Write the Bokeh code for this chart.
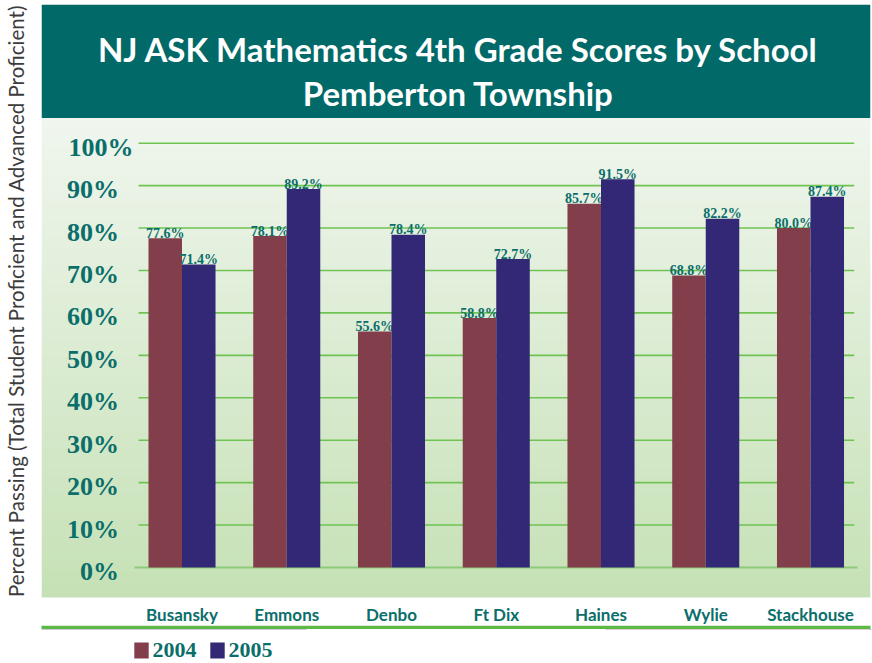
import numpy as np
from bokeh.plotting import figure
from bokeh.layouts import column
from bokeh.models import (Range1d, FixedTicker, LinearAxis, Legend, LegendItem,
                          BoxAnnotation, Label, ColumnDataSource)
from bokeh.transform import dodge
from bokeh.core.properties import value
from bokeh.embed import file_html
from bokeh.resources import INLINE

# ---------------- data ----------------
schools = ["Busansky", "Emmons", "Denbo", "Ft Dix", "Haines", "Wylie", "Stackhouse"]
scores_2004 = [77.6, 78.1, 55.6, 58.8, 85.7, 68.8, 80.0]
scores_2005 = [71.4, 89.2, 78.4, 72.7, 91.5, 82.2, 87.4]
series_names = ["2004", "2005"]
y_ticks = [0, 10, 20, 30, 40, 50, 60, 70, 80, 90, 100]
y_tick_labels = ["0%", "10%", "20%", "30%", "40%", "50%", "60%", "70%", "80%", "90%", "100%"]
title_lines = ["NJ ASK Mathematics 4th Grade Scores by School", "Pemberton Township"]
y_label = "Percent Passing (Total Student Proficient and Advanced Proficient)"

# ---------------- styles / layout ----------------
TEAL = "#0a6e6a"
BANNER = "#016a68"
C2004 = "#823e4a"
C2005 = "#322876"
GRID = "#6fc352"
ZERO = "#8dc97b"
SEP = "#5cb946"
GRAD_TOP = (0xf0, 0xf6, 0xee)
GRAD_BOT = (0xc4, 0xe0, 0xb3)

PAGE_W = 872
MAIN_H, LEG_H = 629, 34
B_LEFT, B_RIGHT, B_TOP, B_BOTTOM = 41, 2, 4, 32
FRAME_W = PAGE_W - B_LEFT - B_RIGHT
FRAME_H = MAIN_H - B_TOP - B_BOTTOM
GROUP0_PX, GROUP_STEP = 140.5, 104.75      # px from frame left
Y0_PX, Y100_PX = 563.0, 138.7               # px from frame top
PX_PER_UNIT = (Y0_PX - Y100_PX) / 100.0
BANNER_PX = 113.5


def xd(px):
    return (px - GROUP0_PX) / GROUP_STEP


def yd(py):
    return (Y0_PX - py) / PX_PER_UNIT


p = figure(width=PAGE_W, height=MAIN_H,
           x_range=Range1d(xd(0), xd(FRAME_W)), y_range=Range1d(yd(FRAME_H), yd(0)),
           output_backend="svg", toolbar_location=None,
           min_border_left=B_LEFT, min_border_right=B_RIGHT, min_border_top=B_TOP,
           min_border_bottom=B_BOTTOM,
           background_fill_color="white", border_fill_color="white", outline_line_color=None)
p.xgrid.visible = False
p.ygrid.visible = False

# gradient background of the plot area
N = 256
t = np.linspace(0.0, 1.0, N)[:, None]
rgb = np.array(GRAD_BOT)[None, :] + (np.array(GRAD_TOP) - np.array(GRAD_BOT))[None, :] * t
img = np.empty((N, 2), dtype=np.uint32)
view = img.view(dtype=np.uint8).reshape((N, 2, 4))
view[:, :, 0:3] = np.round(rgb[:, None, :]).astype(np.uint8)
view[:, :, 3] = 255
p.image_rgba(image=[img], x=xd(0), y=yd(FRAME_H) - 5, dw=xd(FRAME_W) - xd(0),
             dh=yd(BANNER_PX) - yd(FRAME_H) + 5, level="image")

# title banner
p.add_layout(BoxAnnotation(bottom=yd(BANNER_PX), fill_color=BANNER, fill_alpha=1.0,
                           line_color=None))
for line, base_px in zip(title_lines, [44.3, 88.3]):
    p.add_layout(Label(x=xd(416.8), y=yd(base_px), text=line, text_align="center",
                       text_baseline="alphabetic", text_font="Lato", text_font_style="bold",
                       text_font_size="33px", text_color="white"))

# gridlines
p.segment(x0=xd(97), x1=xd(812.7), y0=y_ticks[1:], y1=y_ticks[1:],
          line_color=GRID, line_width=1.6)
p.segment(x0=xd(93), x1=xd(816), y0=y_ticks[:1], y1=y_ticks[:1],
          line_color=ZERO, line_width=2)

# y tick labels
tick_src = ColumnDataSource(dict(
    y=y_ticks, label=y_tick_labels,
    x=[xd(92) if len(s) > 3 else xd(77.5) for s in y_tick_labels]))
p.text(x="x", y="y", text="label", source=tick_src, text_align="right",
       text_baseline="middle", y_offset=4, text_font=value("Liberation Serif"),
       text_font_style="bold", text_font_size="26px", text_color=TEAL)

# bars
src = ColumnDataSource(dict(
    idx=list(range(len(schools))),
    y2004=scores_2004, y2005=scores_2005,
    t2004=[f"{v:.1f}%" for v in scores_2004],
    t2005=[f"{v:.1f}%" for v in scores_2005]))
BW = 0.32
bar_colors = {"2004": C2004, "2005": C2005}
offsets = {"2004": -BW / 2, "2005": BW / 2}
for col in series_names:
    p.vbar(x=dodge("idx", offsets[col]), top="y" + col, bottom=0, width=BW, source=src,
           fill_color=bar_colors[col], line_color=None)
    p.text(x=dodge("idx", offsets[col]), y="y" + col, text="t" + col, source=src,
           text_align="center", text_baseline="alphabetic", y_offset=-5,
           text_font=value("Liberation Serif"), text_font_style="bold",
           text_font_size="14px", text_color=TEAL)

# y axis: only its title
ya = p.yaxis[0]
ya.ticker = FixedTicker(ticks=[])
ya.axis_line_color = None
ya.major_tick_out = 0
ya.major_tick_in = 0
ya.minor_tick_out = 0
ya.minor_tick_in = 0
ya.major_label_standoff = 0
ya.axis_label = y_label
ya.axis_label_text_font = "Lato"
ya.axis_label_text_font_style = "normal"
ya.axis_label_text_font_size = "20.5px"
ya.axis_label_text_color = "#3c3c3c"
ya.axis_label_standoff = 14

# x axis: school names
xa = p.xaxis[0]
xa.ticker = FixedTicker(ticks=list(range(len(schools))))
xa.major_label_overrides = {i: s for i, s in enumerate(schools)}
xa.axis_line_color = None
xa.major_tick_out = 0
xa.major_tick_in = 0
xa.minor_tick_out = 0
xa.minor_tick_in = 0
xa.major_label_standoff = 6
xa.major_label_text_font = "Lato"
xa.major_label_text_font_style = "bold"
xa.major_label_text_font_size = "17px"
xa.major_label_text_color = TEAL

# green separator line under the school names
sep = LinearAxis(ticker=FixedTicker(ticks=[]), axis_line_color=SEP, axis_line_width=3.5,
                 major_tick_out=0, major_tick_in=0, minor_tick_out=0, minor_tick_in=0,
                 major_label_standoff=0, major_tick_line_color=None,
                 minor_tick_line_color=None)
p.add_layout(sep, "below")

# ---------------- legend strip ----------------
# (its swatch renderers share the bar data but lie outside this strip's visible range)
pl = figure(width=PAGE_W, height=LEG_H, x_range=Range1d(0, 1), y_range=Range1d(-2, -1),
            output_backend="svg", toolbar_location=None,
            x_axis_location=None, y_axis_location=None,
            min_border_left=0, min_border_right=0, min_border_top=0, min_border_bottom=0,
            background_fill_color="white", border_fill_color="white", outline_line_color=None)
pl.grid.visible = False
items = []
for col in series_names:
    sw = pl.vbar(x=dodge("idx", offsets[col]), top="y" + col, bottom=0, width=BW,
                 source=src, fill_color=bar_colors[col], line_color=None)
    items.append(LegendItem(label=col, renderers=[sw]))
legend = Legend(items=items, orientation="horizontal", location=(90.5, 0), margin=0,
                padding=0, spacing=11, label_standoff=3, glyph_width=18, glyph_height=20,
                label_text_font="Liberation Serif", label_text_font_style="bold",
                label_text_font_size="22px", label_text_color=TEAL,
                border_line_color=None, background_fill_alpha=0)
pl.add_layout(legend)

layout = column(p, pl, spacing=0)
open("out.html", "w").write(file_html(layout, INLINE))
